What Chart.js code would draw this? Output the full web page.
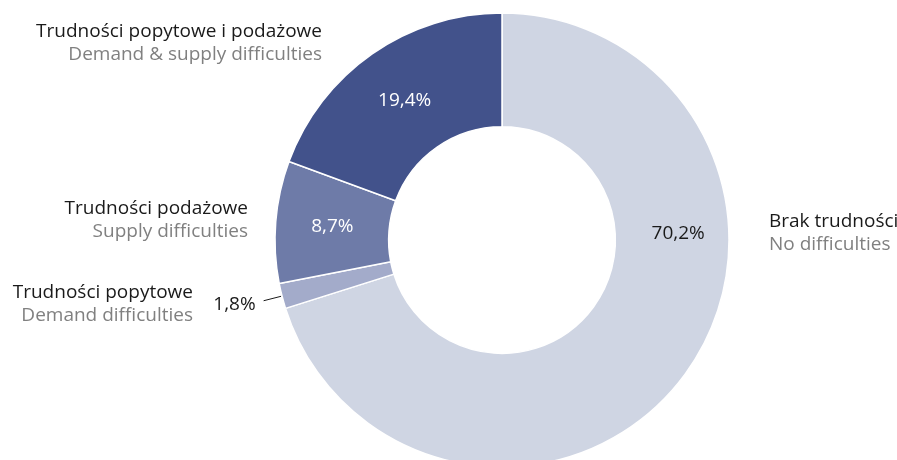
<!DOCTYPE html>
<html>
<head>
<meta charset="utf-8">
<script src="https://cdn.jsdelivr.net/npm/chart.js@4.4.1/dist/chart.umd.min.js"></script>
<style>
  html, body { margin: 0; padding: 0; background: #fff; }
  #wrap { width: 897px; height: 460px; overflow: hidden; }
</style>
</head>
<body>
<div id="wrap"><canvas id="wykres" width="897" height="480"></canvas></div>
<script>
const labelsPl = ['Brak trudności', 'Trudności popytowe', 'Trudności podażowe', 'Trudności popytowe i podażowe']
const labelsEn = ['No difficulties', 'Demand difficulties', 'Supply difficulties', 'Demand & supply difficulties']
const values = [70.2, 1.8, 8.7, 19.4]
const colors = ['#cfd5e3', '#a3abca', '#6e7ba8', '#42528b']

const FONT = '"Open Sans", sans-serif'

// offsets of the category labels from the centre of the ring
const catPos = [
  { dx: 267, dy: -18, align: 'left' },
  { dx: -309, dy: 53, align: 'right' },
  { dx: -254, dy: -31, align: 'right' },
  { dx: -180, dy: -208, align: 'right' }
]

const labelPlugin = {
  id: 'etykiety',
  afterDatasetsDraw(chart) {
    const ctx = chart.ctx
    const arcs = chart.getDatasetMeta(0).data
    ctx.save()
    ctx.font = '19px ' + FONT
    ctx.textBaseline = 'middle'

    arcs.forEach((arc, i) => {
      const p = arc.getProps(['x', 'y', 'startAngle', 'endAngle', 'innerRadius', 'outerRadius'], true)
      const mid = (p.startAngle + p.endAngle) / 2
      const txt = values[i].toFixed(1).replace('.', ',') + '%'

      if (i === 0) {
        // big slice: label on the right side of the ring
        const r = (p.innerRadius + p.outerRadius) / 2 + 6
        ctx.fillStyle = '#1a1a1a'
        ctx.textAlign = 'center'
        ctx.fillText(txt, p.x + r, p.y - 6)
      } else if (i === 1) {
        // small slice: outside with a short line
        const r1 = p.outerRadius + 1
        const r2 = p.outerRadius + 19
        ctx.strokeStyle = '#1a1a1a'
        ctx.lineWidth = 1
        ctx.beginPath()
        ctx.moveTo(p.x + Math.cos(mid) * r1, p.y + Math.sin(mid) * r1)
        ctx.lineTo(p.x + Math.cos(mid) * r2, p.y + Math.sin(mid) * r2)
        ctx.stroke()
        ctx.fillStyle = '#1a1a1a'
        ctx.textAlign = 'right'
        ctx.fillText(txt, p.x + Math.cos(mid) * r2 - 8, p.y + Math.sin(mid) * r2 + 4)
      } else {
        const r = (p.innerRadius + p.outerRadius) / 2
        ctx.fillStyle = '#ffffff'
        ctx.textAlign = 'center'
        ctx.fillText(txt, p.x + Math.cos(mid) * r, p.y + Math.sin(mid) * r)
      }

      const c = catPos[i]
      ctx.textAlign = c.align
      ctx.fillStyle = '#1a1a1a'
      ctx.fillText(labelsPl[i], p.x + c.dx, p.y + c.dy)
      ctx.fillStyle = '#808080'
      ctx.fillText(labelsEn[i], p.x + c.dx, p.y + c.dy + 23)
    })
    ctx.restore()
  }
}

new Chart(document.getElementById('wykres'), {
  type: 'doughnut',
  data: {
    labels: labelsPl,
    datasets: [{
      data: values,
      backgroundColor: colors,
      borderColor: '#ffffff',
      borderWidth: 1.5
    }]
  },
  options: {
    responsive: false,
    animation: false,
    events: [],
    radius: 227,
    cutout: 113,
    layout: { padding: { top: 13, bottom: 13, left: 200, right: 93 } },
    plugins: {
      legend: { display: false },
      tooltip: { enabled: false }
    }
  },
  plugins: [labelPlugin]
})
</script>
</body>
</html>
